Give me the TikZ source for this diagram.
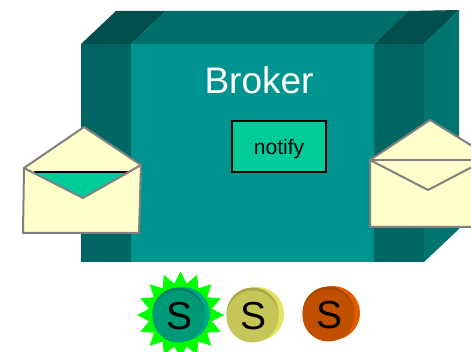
\documentclass[tikz,border=0pt]{standalone}
\usepackage{fontspec}
\setmainfont{Liberation Sans}
\definecolor{frontc}{HTML}{009490}
\definecolor{sidec}{HTML}{006664}
\definecolor{rightc}{HTML}{007570}
\definecolor{topc}{HTML}{006E6A}
\definecolor{topdark}{HTML}{004F4F}
\definecolor{notifyc}{HTML}{00CC99}
\definecolor{paper}{HTML}{FFFFCC}
\definecolor{edgec}{HTML}{808080}
\definecolor{starc}{HTML}{00FF00}
\definecolor{coinAl}{HTML}{00A888}
\definecolor{coinAd}{HTML}{007F6A}
\definecolor{coinAm}{HTML}{009977}
\definecolor{coinBl}{HTML}{E2E260}
\definecolor{coinBd}{HTML}{A8A848}
\definecolor{coinBm}{HTML}{C6C658}
\definecolor{coinCl}{HTML}{E05C00}
\definecolor{coinCd}{HTML}{A84800}
\definecolor{coinCm}{HTML}{C05000}
\tikzset{
  panel/.style={fill=#1,draw=none},
  envelope/.style={fill=paper,draw=edgec,line width=2pt,line join=round},
  fold/.style={draw=edgec,line width=2pt,line join=round},
  coinlabel/.style={font=\fontsize{39}{42}\selectfont,text=black,inner sep=0pt},
}
\newcommand{\coin}[5]{%
  \fill[#3] (#1+3,#2-1) circle[radius=27];
  \fill[#4] (#1-1.5,#2-1.5) circle[radius=26];
  \fill[#5] (#1-1.5,#2+1.5) circle[radius=26];
}
\begin{document}
\begin{tikzpicture}[x=1pt,y=-1pt]
\useasboundingbox (0,0) rectangle (471,352);
% broker box
\fill[panel=topdark] (81,44) -- (116,11) -- (166,11) -- (131,44) -- cycle;
\fill[panel=topc] (131,44) -- (166,11) -- (408,11) -- (374,44) -- cycle;
\fill[panel=topdark] (374,44) -- (408,11) -- (459,10) -- (424,44) -- cycle;
\fill[panel=sidec] (81,44) rectangle (131,262);
\fill[panel=frontc] (131,44) rectangle (374,262);
\fill[panel=sidec] (374,44) rectangle (424,262);
\fill[panel=rightc] (424,44) -- (459,10) -- (459,229) -- (424,262) -- cycle;
\node[text=white,font=\fontsize{37}{40}\selectfont,inner sep=0pt] (broker) at (259,80) {Broker};
\node[draw=black,fill=notifyc,line width=1.5pt,minimum width=94pt,minimum height=51pt,inner sep=0pt,text height=19pt,text depth=2pt,font=\fontsize{21}{24}\selectfont] (notify) at (279,146.5) {notify};
% left envelope
\fill[envelope] (24,168) -- (84,127) -- (141,165) -- (139,233) -- (23,233) -- cycle;
\fill[notifyc] (34,172.5) -- (130,172.5) -- (83,198) -- cycle;
\draw[black,line width=2pt] (34,172.5) -- (130,172.5);
\draw[fold] (24,168) -- (83,198) -- (141,165);
% right envelope
\fill[envelope] (370,160) -- (430,120) -- (495,160) -- (495,227) -- (370,227) -- cycle;
\draw[fold] (370,160) -- (495,160);
\draw[fold] (370,160) -- (428,190) -- (495,155);
% subscribers
\fill[starc] (224,315)
  \foreach \i in {1,...,31}{
    -- ({180.5+(mod(\i,2)==0?43.5:32)*cos(\i*11.25)},{315-(mod(\i,2)==0?43.5:32)*sin(\i*11.25)})
  } -- cycle;
\coin{180}{315}{coinAl}{coinAd}{coinAm}
\node[coinlabel] (s1) at (180,316) {S};
\coin{254}{315}{coinBl}{coinBd}{coinBm}
\node[coinlabel] (s2) at (254,316) {S};
\coin{330}{314}{coinCl}{coinCd}{coinCm}
\node[coinlabel] (s3) at (330,315) {S};
\end{tikzpicture}
\end{document}
